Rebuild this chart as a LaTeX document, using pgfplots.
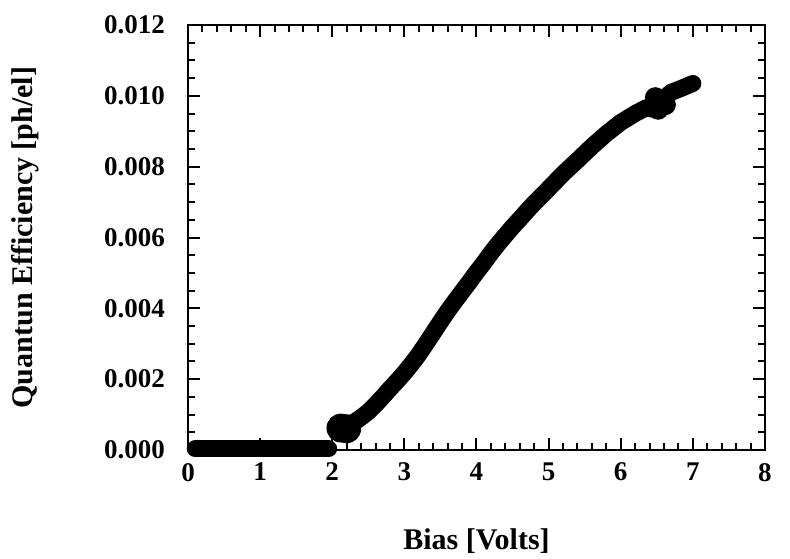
\documentclass[border=0pt]{standalone}
\usepackage{fontspec}
\setmainfont{Liberation Serif}
\usepackage{pgfplots}
\pgfplotsset{compat=1.18}

\begin{document}
\begin{tikzpicture}
\useasboundingbox (-94pt,-54pt) rectangle (301pt,225pt);
\begin{axis}[
  at={(0,0)}, anchor=south west,
  scale only axis, width=288.5pt, height=212.5pt,
  xmin=0, xmax=8, ymin=0, ymax=0.012,
  xtick={0,1,...,8}, minor x tick num=4,
  ytick={0,0.002,0.004,0.006,0.008,0.010,0.012}, minor y tick num=3,
  scaled y ticks=false,
  yticklabel style={/pgf/number format/fixed, /pgf/number format/fixed zerofill,
    /pgf/number format/precision=3, xshift=-8pt},
  /pgf/number format/assume math mode=true,
  tick label style={font=\fontsize{13.5}{15}\selectfont\bfseries},
  xticklabel style={yshift=-3pt},
  axis line style={line width=1.4pt},
  tick style={line width=1pt, black},
  major tick length=6pt, minor tick length=3.5pt,
  clip=false,
  xlabel={Bias [Volts]},
  ylabel={Quantun Efficiency [ph/el]},
  label style={font=\fontsize{15}{17}\selectfont\bfseries},
  xlabel style={at={(axis description cs:0.5,-0.215)}, anchor=center},
  ylabel style={at={(axis description cs:-0.2825,0.5)}, anchor=center},
]
% flat part below threshold
\addplot[black, line width=8.5pt, line cap=round] coordinates {
  (0.10,0.00003) (0.5,0.00003) (1.0,0.00003) (1.5,0.00003) (1.95,0.00003)
};
% blob at onset
\addplot[only marks, mark=*, mark size=7pt, black] coordinates {(2.12,0.00062) (2.2,0.00060)};
% rising part
\addplot[black, line width=8.5pt, line cap=round, line join=round] coordinates {
  (2.15,0.00064) (2.20,0.00068) (2.30,0.00078) (2.40,0.00092) (2.50,0.00108)
  (2.60,0.00128) (2.70,0.00150) (2.80,0.00173) (2.90,0.00195) (3.00,0.00218)
  (3.10,0.00243) (3.20,0.00270) (3.30,0.00300) (3.40,0.00331) (3.50,0.00362)
  (3.60,0.00392) (3.70,0.00420) (3.80,0.00447) (3.90,0.00474) (4.00,0.00502)
  (4.10,0.00528) (4.20,0.00556) (4.30,0.00582) (4.40,0.00606) (4.50,0.00630)
  (4.60,0.00652) (4.70,0.00675) (4.80,0.00697) (4.90,0.00717) (5.00,0.00738)
  (5.20,0.00780) (5.40,0.00818) (5.60,0.00857) (5.80,0.00893) (6.00,0.00925)
  (6.20,0.00950) (6.35,0.00966) (6.45,0.00962) (6.55,0.00985) (6.70,0.01010)
  (6.85,0.01022) (7.00,0.01035)
};
% scatter around 6.5 V
\addplot[only marks, mark=*, mark size=5pt, black] coordinates {
  (6.48,0.00995) (6.52,0.00962) (6.62,0.00975)
};
\end{axis}
\end{tikzpicture}
\end{document}
